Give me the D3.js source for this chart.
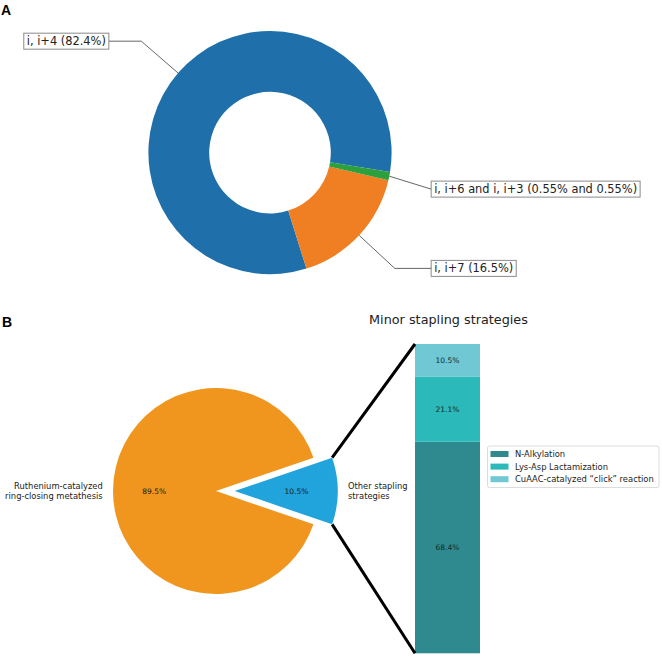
<!DOCTYPE html>
<html>
<head>
<meta charset="utf-8">
<script src="https://cdn.jsdelivr.net/npm/d3@7"></script>
<style>
  body { margin: 0; background: #fff; }
  svg text { font-family: "DejaVu Sans", sans-serif; }
</style>
</head>
<body>
<svg id="chart" width="662" height="657"></svg>
<script>
// panel A - helix stapling positions
var donutLabels = ["i, i+4 (82.4%)", "i, i+7 (16.5%)", "i, i+6 and i, i+3 (0.55% and 0.55%)"];
var donutValues = [82.4, 16.5, 1.1];
var donutColors = ["#1f70aa", "#ef7f22", "#2ca03c"];

// panel B - stapling chemistry
var pieLabels = [["Ruthenium-catalyzed", "ring-closing metathesis"], ["Other stapling", "strategies"]];
var pieValues = [89.5, 10.5];
var pieColors = ["#f0961e", "#21a3dc"];

// minor strategies stacked bar
var barCategories = ["N-Alkylation", "Lys-Asp Lactamization", "CuAAC-catalyzed \u201cclick\u201d reaction"];
var barValues = [68.4, 21.1, 10.5];
var barColors = ["#2e8a8f", "#2cb9b9", "#70c8d5"];

var svg = d3.select('#chart');
var deg = Math.PI / 180;

svg.append('text').attr('x', 1).attr('y', 15)
    .style('font-family', '"Liberation Sans", Arial, sans-serif')
    .attr('font-weight', 'bold').attr('font-size', 14).text('A');
svg.append('text').attr('x', 2).attr('y', 327)
    .style('font-family', '"Liberation Sans", Arial, sans-serif')
    .attr('font-weight', 'bold').attr('font-size', 14).text('B');

// ---------- donut ----------
var dcx = 270, dcy = 152.6, dr = 121.6;
var dStart = 99.2 * deg;
var donutPie = d3.pie().sort(null).startAngle(dStart).endAngle(dStart - 2 * Math.PI);
var donutArc = d3.arc().innerRadius(dr * 0.5).outerRadius(dr);
var dArcs = donutPie(donutValues);

var gA = svg.append('g').attr('transform', 'translate(' + dcx + ',' + dcy + ')');
gA.selectAll('path.slice')
    .data(dArcs)
    .enter()
    .append('path')
    .attr('class', 'slice')
    .attr('d', donutArc)
    .style('fill', (d, i) => donutColors[i]);

dArcs.forEach(function (d, i) {
    var a = (d.startAngle + d.endAngle) / 2;
    var px = Math.sin(a) * dr, py = -Math.cos(a) * dr;
    var side = Math.sin(a) >= 0 ? 1 : -1;
    var tx = 1.35 * dr * side, ty = -1.4 * dr * Math.cos(a);
    if (Math.abs(ty) < 0.4 * dr) ty += 3.5; // small slice label sits a bit lower
    var pad = 3;
    var edge = tx - side * pad;
    var cxr = ty * Math.sin(a) / (-Math.cos(a));
    if (Math.abs(cxr) > Math.abs(edge)) cxr = edge;

    gA.append('polyline')
        .attr('points', [[px, py], [cxr, ty], [edge, ty]].map(p => p.join(',')).join(' '))
        .style('fill', 'none')
        .style('stroke', '#555')
        .style('stroke-width', 0.9);

    var t = gA.append('text')
        .attr('x', tx)
        .attr('y', ty)
        .attr('dy', '0.35em')
        .attr('font-size', '11.4px')
        .style('fill', '#222')
        .style('text-anchor', side > 0 ? 'start' : 'end')
        .text(donutLabels[i]);
    var w = t.node().getComputedTextLength();
    var bx = side > 0 ? tx - pad : tx - w - pad;
    gA.insert('rect', 'text')
        .attr('x', bx)
        .attr('y', ty - 8)
        .attr('width', w + 2 * pad)
        .attr('height', 16)
        .style('fill', '#fff')
        .style('stroke', '#8a8a8a')
        .style('stroke-width', 1);
});

// ---------- pie ----------
var pcx = 216, pcy = 491, pr = 103, explode = 18.7;
var pStart = 71.1 * deg;
var bigPie = d3.pie().sort(null).startAngle(pStart).endAngle(pStart - 2 * Math.PI);
var pieArc = d3.arc().innerRadius(0).outerRadius(pr);
var pArcs = bigPie(pieValues);

var gB = svg.append('g').attr('transform', 'translate(' + pcx + ',' + pcy + ')');
pArcs.forEach(function (d, i) {
    var a = (d.startAngle + d.endAngle) / 2;
    var off = i === 1 ? explode : 0;
    var ox = Math.sin(a) * off, oy = -Math.cos(a) * off;
    var g = gB.append('g').attr('transform', 'translate(' + ox + ',' + oy + ')');
    g.append('path').attr('d', pieArc(d)).style('fill', pieColors[i]);

    g.append('text')
        .attr('x', Math.sin(a) * pr * 0.6)
        .attr('y', -Math.cos(a) * pr * 0.6)
        .attr('dy', '0.35em')
        .attr('font-size', '7.5px')
        .style('fill', '#1a1a1a')
        .style('text-anchor', 'middle')
        .text(pieValues[i].toFixed(1) + '%');

    var lx = Math.sin(a) * pr * 1.1, ly = -Math.cos(a) * pr * 1.1;
    var lab = g.append('text')
        .attr('x', lx)
        .attr('y', ly)
        .attr('font-size', '8.35px')
        .style('fill', '#222')
        .style('text-anchor', lx < 0 ? 'end' : 'start');
    lab.selectAll('tspan')
        .data(pieLabels[i])
        .enter()
        .append('tspan')
        .attr('x', lx)
        .attr('dy', (t, j) => j === 0 ? '-0.2em' : '1.1em')
        .text(t => t);
});

// ---------- stacked bar ----------
var barX0 = 415, barX1 = 480;
var y = d3.scaleLinear().domain([0, 100]).range([653.3, 344]);
var row = {};
barCategories.forEach((c, i) => { row[c] = barValues[i]; });
var stacked = d3.stack().keys(barCategories)([row]);

var gBar = svg.append('g');
gBar.selectAll('rect')
    .data(stacked)
    .enter()
    .append('rect')
    .attr('x', barX0)
    .attr('width', barX1 - barX0)
    .attr('y', d => y(d[0][1]))
    .attr('height', d => y(d[0][0]) - y(d[0][1]))
    .style('fill', (d, i) => barColors[i]);

gBar.selectAll('text')
    .data(stacked)
    .enter()
    .append('text')
    .attr('x', (barX0 + barX1) / 2)
    .attr('y', d => y((d[0][0] + d[0][1]) / 2))
    .attr('dy', '0.35em')
    .attr('font-size', '7.5px')
    .style('fill', '#0d2a30')
    .style('text-anchor', 'middle')
    .text((d, i) => barValues[i].toFixed(1) + '%');

svg.append('text')
    .attr('x', (barX0 + barX1) / 2 + 1)
    .attr('y', 324)
    .attr('font-size', '12.8px')
    .style('fill', '#222')
    .style('text-anchor', 'middle')
    .text('Minor stapling strategies');

// connection lines from exploded wedge to bar
var bw = pArcs[1];
var ba = (bw.startAngle + bw.endAngle) / 2;
var bcx = pcx + Math.sin(ba) * explode, bcy = pcy - Math.cos(ba) * explode;
[bw.startAngle, bw.endAngle].forEach(function (ang) {
    var ex = bcx + Math.sin(ang) * pr, ey = bcy - Math.cos(ang) * pr;
    var top = ey < bcy;
    svg.append('line')
        .attr('x1', ex).attr('y1', ey)
        .attr('x2', barX0).attr('y2', top ? y(100) : y(0))
        .style('stroke', '#000')
        .style('stroke-width', 3);
});

// legend
var lg = svg.append('g').attr('transform', 'translate(487.5,446)');
lg.append('rect')
    .attr('width', 171.5).attr('height', 41.5)
    .attr('rx', 2)
    .style('fill', '#fff')
    .style('stroke', '#dcdcdc');
var li = lg.selectAll('.legend-item')
    .data(barCategories)
    .enter()
    .append('g')
    .attr('class', 'legend-item')
    .attr('transform', (d, i) => 'translate(3,' + (8 + i * 12.6) + ')');
li.append('rect')
    .attr('x', 0).attr('y', -3)
    .attr('width', 18).attr('height', 6)
    .style('fill', (d, i) => barColors[i]);
li.append('text')
    .attr('x', 24.5)
    .attr('dy', '0.35em')
    .attr('font-size', '8.4px')
    .style('fill', '#222')
    .text(d => d);
</script>
</body>
</html>
